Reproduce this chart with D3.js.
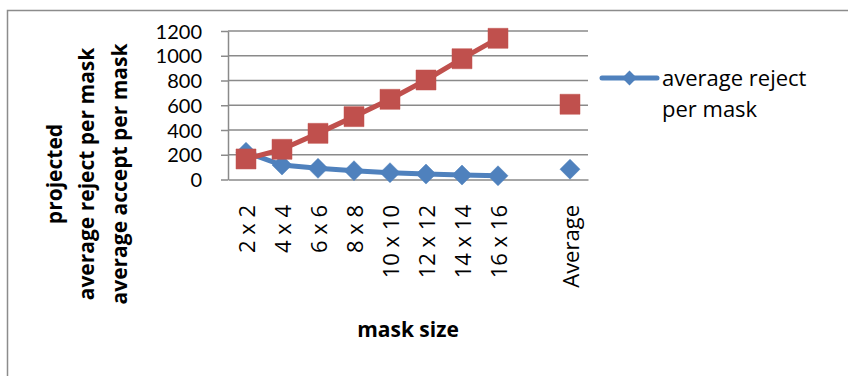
<!DOCTYPE html>
<html>
<head>
<meta charset="utf-8">
<script src="https://cdn.jsdelivr.net/npm/d3@7"></script>
<style>
  html, body { margin: 0; padding: 0; background: #ffffff; }
  svg { display: block; font-family: "Open Sans", "Liberation Sans", sans-serif; }
</style>
</head>
<body>
<svg id="chart" width="848" height="376"></svg>
<script>
// ---- data ----
const categories = ["2 x 2", "4 x 4", "6 x 6", "8 x 8", "10 x 10", "12 x 12", "14 x 14", "16 x 16", "", "Average"];
const rejectValues = [220, 117, 90, 71, 55, 44, 36, 30, null, 83];
const acceptValues = [166, 244, 373, 508, 648, 804, 976, 1141, null, 608];
const yTicks = [0, 200, 400, 600, 800, 1000, 1200];
const yTitleLines = ["projected", "average reject per mask", "average accept per mask"];
const xTitle = "mask size";
const legendLines = ["average reject", "per mask"];

const blue = "#4F81BD", red = "#C0504D", gridCol = "#8a8a8a";

const svg = d3.select("#chart");

// outer chart border (only left and top visible in frame)
svg.append("rect")
  .attr("x", 7.5).attr("y", 10.5)
  .attr("width", 900).attr("height", 420)
  .attr("fill", "none").attr("stroke", "#8c8c8c").attr("stroke-width", 1.5);

const plotL = 228, plotR = 588, plotT = 31, plotB = 179.5;

const x = d3.scaleBand().domain(d3.range(categories.length)).range([plotL, plotR]).padding(0);
const y = d3.scaleLinear().domain([0, 1200]).range([plotB, plotT]);

// gridlines
svg.append("g").selectAll("line")
  .data(yTicks.filter(t => t > 0))
  .join("line")
  .attr("x1", plotL).attr("x2", plotR)
  .attr("y1", d => y(d)).attr("y2", d => y(d))
  .attr("stroke", gridCol).attr("stroke-width", 1.5);

// y axis
const yAxis = svg.append("g")
  .attr("transform", `translate(${plotL},0)`)
  .call(d3.axisLeft(y).tickValues(yTicks).tickFormat(d3.format("d"))
    .tickSize(7).tickSizeOuter(0).tickPadding(19));
yAxis.select(".domain").attr("stroke", gridCol).attr("stroke-width", 1.5);
yAxis.selectAll(".tick line").attr("stroke", gridCol).attr("stroke-width", 1.5);
yAxis.selectAll(".tick text")
  .attr("font-family", "Lato, 'Open Sans', sans-serif")
  .attr("font-size", 20).attr("fill", "#000").attr("dy", "0.36em");

// x axis
const xAxis = svg.append("g")
  .attr("transform", `translate(0,${plotB})`)
  .call(d3.axisBottom(x).tickSize(0).tickSizeOuter(0).tickFormat(i => categories[i]));
xAxis.select(".domain").attr("stroke", gridCol).attr("stroke-width", 1.5);
xAxis.selectAll(".tick text")
  .attr("font-family", "'Open Sans', sans-serif")
  .attr("font-size", 22).attr("fill", "#000")
  .attr("text-anchor", "end")
  .attr("dy", null).attr("y", null)
  .attr("dominant-baseline", "central")
  .attr("transform", "translate(0,25.5) rotate(-90)");

// series
const cx = i => x(i) + x.bandwidth() / 2;
const line = d3.line()
  .defined(d => d.v != null)
  .x(d => cx(d.i)).y(d => y(d.v));

function drawSeries(values, color, marker) {
  const pts = values.map((v, i) => ({ i, v }));
  svg.append("path")
    .datum(pts)
    .attr("d", line)
    .attr("fill", "none").attr("stroke", color)
    .attr("stroke-width", 5).attr("stroke-linejoin", "round");
  const sym = marker === "diamond"
    ? d3.symbol().type(d3.symbolSquare).size(200)
    : d3.symbol().type(d3.symbolSquare).size(400);
  svg.append("g").selectAll("path")
    .data(pts.filter(d => d.v != null))
    .join("path")
    .attr("d", sym)
    .attr("transform", d => `translate(${cx(d.i)},${y(d.v)})` + (marker === "diamond" ? " rotate(45)" : ""))
    .attr("fill", color).attr("stroke", color).attr("stroke-width", 0.5);
}
drawSeries(rejectValues, blue, "diamond");
drawSeries(acceptValues, red, "square");

// y title (rotated, three lines)
const yTitleX = [62, 94, 127];
yTitleLines.forEach((t, k) => {
  svg.append("text")
    .attr("transform", `translate(${yTitleX[k]},174) rotate(-90)`)
    .attr("text-anchor", "middle")
    .attr("font-family", "'Open Sans', sans-serif")
    .attr("font-weight", "bold").attr("font-size", 21)
    .attr("fill", "#000")
    .text(t);
});

// x title
svg.append("text")
  .attr("x", (plotL + plotR) / 2).attr("y", 337)
  .attr("text-anchor", "middle")
  .attr("font-family", "'Open Sans', sans-serif")
  .attr("font-weight", "bold").attr("font-size", 21)
  .attr("fill", "#000")
  .text(xTitle);

// legend
const lg = svg.append("g");
lg.append("line")
  .attr("x1", 602).attr("x2", 657).attr("y1", 78).attr("y2", 78)
  .attr("stroke", blue).attr("stroke-width", 5).attr("stroke-linecap", "round");
lg.append("path")
  .attr("d", d3.symbol().type(d3.symbolSquare).size(110))
  .attr("transform", "translate(629.5,78) rotate(45)")
  .attr("fill", blue);
legendLines.forEach((t, k) => {
  lg.append("text")
    .attr("x", 662).attr("y", 86 + k * 31)
    .attr("font-family", "'Open Sans', sans-serif")
    .attr("font-size", 22).attr("fill", "#000")
    .text(t);
});
</script>
</body>
</html>
